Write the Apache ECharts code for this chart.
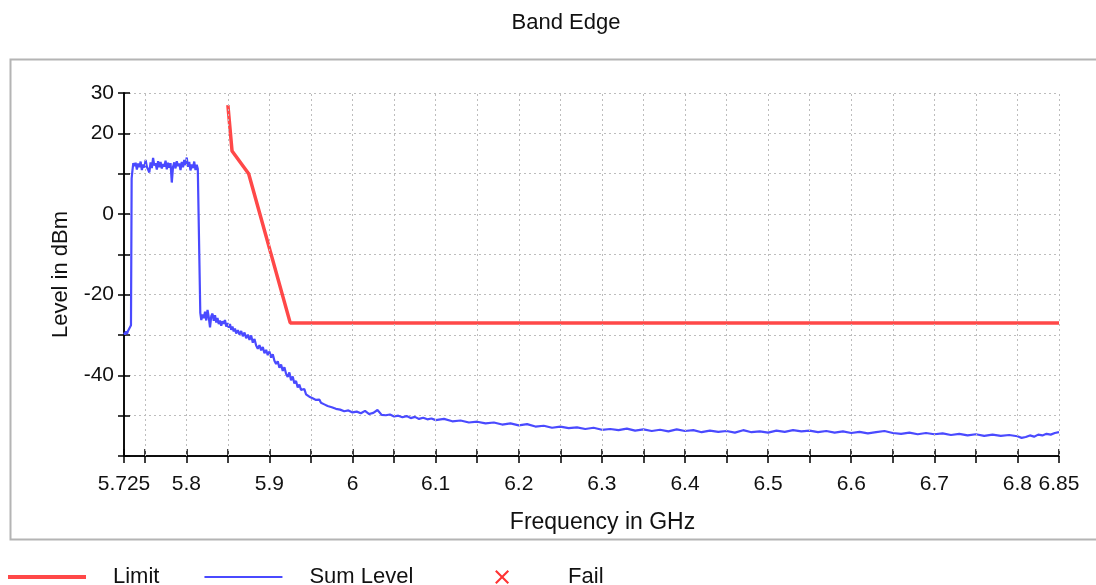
<!DOCTYPE html>
<html>
<head>
<meta charset="utf-8">
<title>Band Edge</title>
<script src="https://cdn.jsdelivr.net/npm/echarts@6/dist/echarts.min.js"></script>
<style>
  html, body { margin: 0; padding: 0; background: #fff; }
  #container { width: 1096px; height: 585px; }
</style>
</head>
<body>
<div id="container"></div>
<script>
"use strict";

// x axis ticks / labels (GHz)
const xTickValues = [5.725, 5.75, 5.8, 5.85, 5.9, 5.95, 6, 6.05, 6.1, 6.15, 6.2, 6.25, 6.3, 6.35,
    6.4, 6.45, 6.5, 6.55, 6.6, 6.65, 6.7, 6.75, 6.8, 6.85];
const xLabelValues = [5.725, 5.8, 5.9, 6, 6.1, 6.2, 6.3, 6.4, 6.5, 6.6, 6.7, 6.8, 6.85];
// y axis labels (dBm)
const yLabelValues = [30, 20, 0, -20, -40];

// limit mask
const limitFreq = [5.85, 5.855, 5.875, 5.925, 6.85];
const limitLevel = [27, 15.6, 10, -27, -27];

// measured sum level trace
const sumFreq = [
    5.7250, 5.7262, 5.7274, 5.7286, 5.7298, 5.7310, 5.7322, 5.7334, 5.7342, 5.7352, 5.7362,
    5.7375, 5.7390, 5.7405, 5.7420, 5.7435, 5.7450, 5.7465, 5.7480, 5.7495, 5.7510,
    5.7525, 5.7540, 5.7555, 5.7570, 5.7585, 5.7600, 5.7615, 5.7630, 5.7645, 5.7660,
    5.7675, 5.7690, 5.7705, 5.7720, 5.7735, 5.7750, 5.7765, 5.7780, 5.7795, 5.7810,
    5.7825, 5.7840, 5.7855, 5.7870, 5.7885, 5.7900, 5.7915, 5.7930, 5.7945, 5.7960,
    5.7975, 5.7990, 5.8005, 5.8020, 5.8035, 5.8050, 5.8065, 5.8080, 5.8095, 5.8110,
    5.8125, 5.8138, 5.8148,
    5.8168, 5.8180, 5.8195, 5.8210, 5.8225, 5.8240, 5.8255, 5.8270, 5.8285, 5.8300,
    5.8315, 5.8330, 5.8345, 5.8360, 5.8375, 5.8390, 5.8405, 5.8420, 5.8435, 5.8450,
    5.8465, 5.8480, 5.8495, 5.8510, 5.8525, 5.8540, 5.8555, 5.8570, 5.8585, 5.8600,
    5.8620, 5.8640, 5.8660, 5.8680, 5.8700, 5.8720, 5.8740, 5.8760, 5.8780, 5.8800,
    5.8820, 5.8840, 5.8860, 5.8880, 5.8900, 5.8920, 5.8940, 5.8960, 5.8980, 5.9000,
    5.9020, 5.9040, 5.9060, 5.9080, 5.9100, 5.9120, 5.9140, 5.9160, 5.9180, 5.9200,
    5.9220, 5.9240, 5.9260, 5.9280, 5.9300, 5.9320, 5.9340, 5.9360, 5.9380, 5.9400,
    5.9420, 5.9440, 5.9460, 5.9480, 5.9500, 5.9520, 5.9540, 5.9560, 5.9580, 5.9600,
    5.9620, 5.9640, 5.9660, 5.9680, 5.9700,
    5.975, 5.980, 5.985, 5.990, 5.995, 6.000, 6.005, 6.010, 6.015, 6.020,
    6.025, 6.030, 6.035, 6.040, 6.045, 6.050, 6.055, 6.060, 6.065, 6.070,
    6.075, 6.080, 6.085, 6.090, 6.095, 6.100,
    6.110, 6.120, 6.130, 6.140, 6.150, 6.160, 6.170, 6.180, 6.190, 6.200,
    6.210, 6.220, 6.230, 6.240, 6.250, 6.260, 6.270, 6.280, 6.290, 6.300,
    6.310, 6.320, 6.330, 6.340, 6.350, 6.360, 6.370, 6.380, 6.390, 6.400,
    6.410, 6.420, 6.430, 6.440, 6.450, 6.460, 6.470, 6.480, 6.490, 6.500,
    6.510, 6.520, 6.530, 6.540, 6.550, 6.560, 6.570, 6.580, 6.590, 6.600,
    6.610, 6.620, 6.630, 6.640, 6.650, 6.660, 6.670, 6.680, 6.690, 6.700,
    6.710, 6.720, 6.730, 6.740, 6.750, 6.760, 6.770, 6.780, 6.790, 6.800,
    6.805, 6.810, 6.815, 6.820, 6.825, 6.830, 6.835, 6.840, 6.845, 6.850
];
const sumLevel = [
    -29.4, -29.9, -29.1, -29.7, -29.0, -29.4, -28.6, -27.6, 8.8, 10.9, 12.6,
    11.9, 12.7, 11.0, 12.5, 11.6, 13.0, 10.9, 12.3, 11.5, 13.4,
    11.7, 12.1, 10.3, 12.8, 11.4, 13.9, 12.0, 12.6, 11.0, 13.1,
    11.6, 12.9, 11.3, 12.4, 11.8, 13.2, 11.1, 12.7, 11.5, 12.6,
    7.8, 11.7, 12.8, 11.3, 13.1, 11.9, 12.5, 10.9, 12.9, 11.6,
    13.4, 12.1, 14.0, 11.7, 12.9, 10.8, 12.3, 11.4, 13.0, 10.9,
    12.2, 11.2, 11.0,
    -24.5, -26.3, -24.9, -25.8, -24.2, -26.4, -23.8, -25.6, -28.1, -25.3,
    -24.7, -26.5, -25.1, -26.9, -25.8, -27.3, -26.4, -27.7, -26.6, -27.2,
    -26.3, -27.9, -27.0, -28.2, -27.3, -28.7, -27.9, -29.1, -28.4, -29.6,
    -28.8, -29.9, -29.0, -30.3, -29.4, -30.8, -29.9, -31.2, -30.1, -31.9,
    -31.0, -32.6, -33.4, -32.5, -33.8, -33.0, -34.5, -33.7, -35.0, -34.1,
    -35.6, -34.8, -36.4, -37.2, -36.5, -38.1, -37.3, -38.9, -38.0, -39.6,
    -40.4, -39.3, -41.2, -40.3, -42.0, -41.4, -43.0, -42.3, -43.6, -44.0,
    -43.4, -44.7, -44.9, -45.3, -45.0, -45.7, -45.5, -46.1, -46.3, -46.0,
    -46.8, -46.6, -47.2, -47.0, -47.6,
    -47.9, -48.3, -48.5, -48.9, -48.7, -49.2, -49.0, -49.4, -48.8, -49.6,
    -49.3, -48.6, -49.8, -49.9, -49.7, -50.2, -50.0, -50.4, -50.1, -50.6,
    -50.3, -50.8, -50.5, -50.9, -50.7, -51.1,
    -50.8, -51.4, -51.2, -51.7, -51.5, -51.9, -51.7, -52.2, -51.9, -52.4,
    -52.1, -52.7, -52.5, -53.0, -52.7, -53.1, -52.9, -53.3, -53.0, -53.5,
    -53.3, -53.6, -53.2, -53.7, -53.4, -53.8, -53.5, -53.9, -53.4, -53.8,
    -53.6, -54.1, -53.7, -54.0, -53.8, -54.2, -53.6, -54.1, -53.9, -54.2,
    -53.7, -54.0, -53.6, -53.9, -53.7, -54.1, -53.8, -54.2, -53.9, -54.3,
    -54.0, -54.4, -54.1, -53.8, -54.3, -54.5, -54.2, -54.6, -54.3, -54.6,
    -54.4, -54.8, -54.5, -54.9, -54.6, -55.0, -54.7, -55.0, -54.8, -55.1,
    -55.5, -55.3, -54.9, -55.2, -54.7, -54.9, -54.5, -54.7, -54.3, -54.1
];

function zip(xs, ys) {
    return xs.map((x, i) => [x, ys[i]]);
}

const FONT = 'Liberation Sans, Arial, sans-serif';
const GRID_LINE = { color: '#bdbdbd', type: [2, 3], width: 1 };
const failIcon = 'path://M0,1.5L1.5,0L7,5.5L12.5,0L14,1.5L8.5,7L14,12.5L12.5,14L7,8.5L1.5,14L0,12.5L5.5,7Z';
const thickBar = 'path://M0,0L78,0L78,4L0,4Z';
const thinBar = 'path://M0,0L78,0L78,2L0,2Z';

let myChart = echarts.init(document.getElementById('container'), null, { renderer: 'canvas' });

const xBase = {
    type: 'value',
    min: 5.725,
    max: 6.85,
    position: 'bottom',
    axisLine: { show: true, onZero: false, lineStyle: { color: '#000', width: 1.5 } },
    splitLine: { show: false }
};
const yBase = {
    type: 'value',
    min: -60,
    max: 30,
    interval: 10,
    position: 'left',
    axisLine: { show: true, onZero: false, lineStyle: { color: '#000', width: 1.5 } },
};

let option = {
    animation: false,
    backgroundColor: '#fff',
    graphic: [{
        type: 'rect',
        left: 8,
        top: 57,
        shape: { width: 1100, height: 480 },
        style: { fill: 'none', stroke: '#b4b4b4', lineWidth: 2 },
        silent: true,
        z: -1
    }],
    title: {
        text: 'Band Edge',
        left: 561,
        top: 7,
        textAlign: 'center',
        textStyle: { fontFamily: FONT, fontSize: 22, fontWeight: 'normal', color: '#111' }
    },
    grid: { left: 124, right: 37, top: 93, bottom: 129 },
    legend: {
        left: 3,
        top: 561,
        itemWidth: 78,
        itemHeight: 14,
        itemGap: 45,
        textStyle: { fontFamily: FONT, fontSize: 22, color: '#111', padding: [0, 0, 0, 22] },
        // extra room after "Sum Level" as in the original legend
        formatter: function (name) {
            return name === 'Sum Level' ? name + '      ' : name;
        },
        data: [
            { name: 'Limit', icon: thickBar },
            { name: 'Sum Level', icon: thinBar },
            { name: 'Fail', icon: failIcon }
        ]
    },
    xAxis: [
        Object.assign({}, xBase, {
            name: 'Frequency in GHz',
            nameLocation: 'middle',
            nameGap: 55,
            nameTextStyle: { fontFamily: FONT, fontSize: 23, color: '#111', padding: [0, 0, 0, 22] },
            axisTick: { show: true, inside: false, length: 7, customValues: xTickValues,
                lineStyle: { color: '#000', width: 1.5 } },
            axisLabel: { customValues: xLabelValues, margin: 18, fontFamily: FONT, fontSize: 21, color: '#111' }
        }),
        Object.assign({}, xBase, {
            axisTick: { show: true, inside: true, length: 7, customValues: xTickValues,
                lineStyle: { color: '#000', width: 1.5 } },
            axisLabel: { show: false }
        })
    ],
    yAxis: [
        Object.assign({}, yBase, {
            name: 'Level in dBm',
            nameLocation: 'middle',
            nameGap: 52,
            nameTextStyle: { fontFamily: FONT, fontSize: 22, color: '#111' },
            axisTick: { show: true, inside: false, length: 6, lineStyle: { color: '#000', width: 1.5 } },
            axisLabel: { customValues: yLabelValues, margin: 10, fontFamily: FONT, fontSize: 21, color: '#111' },
            splitLine: { show: true, lineStyle: GRID_LINE }
        }),
        Object.assign({}, yBase, {
            axisTick: { show: true, inside: true, length: 6, lineStyle: { color: '#000', width: 1.5 } },
            axisLabel: { show: false },
            splitLine: { show: false }
        })
    ],
    series: [
        {
            // vertical dotted grid at each frequency tick
            name: 'grid',
            type: 'line',
            data: [],
            silent: true,
            z: 1,
            markLine: {
                silent: true,
                animation: false,
                symbol: 'none',
                label: { show: false },
                lineStyle: GRID_LINE,
                emphasis: { disabled: true },
                data: xTickValues.filter(v => v > 5.725).map(v => ({ xAxis: v }))
            }
        },
        {
            name: 'Limit',
            type: 'line',
            showSymbol: false,
            symbol: 'none',
            z: 3,
            lineStyle: { color: '#ff4848', width: 3.5 },
            itemStyle: { color: '#ff4848' },
            data: zip(limitFreq, limitLevel)
        },
        {
            name: 'Sum Level',
            type: 'line',
            showSymbol: false,
            symbol: 'none',
            z: 2,
            lineStyle: { color: '#4a4aff', width: 2.2 },
            itemStyle: { color: '#4a4aff' },
            data: zip(sumFreq, sumLevel)
        },
        {
            name: 'Fail',
            type: 'scatter',
            symbol: failIcon,
            itemStyle: { color: '#ff0000' },
            data: []
        }
    ]
};

myChart.setOption(option);

window.addEventListener('resize', function () {
    myChart.resize();
});
</script>
</body>
</html>
